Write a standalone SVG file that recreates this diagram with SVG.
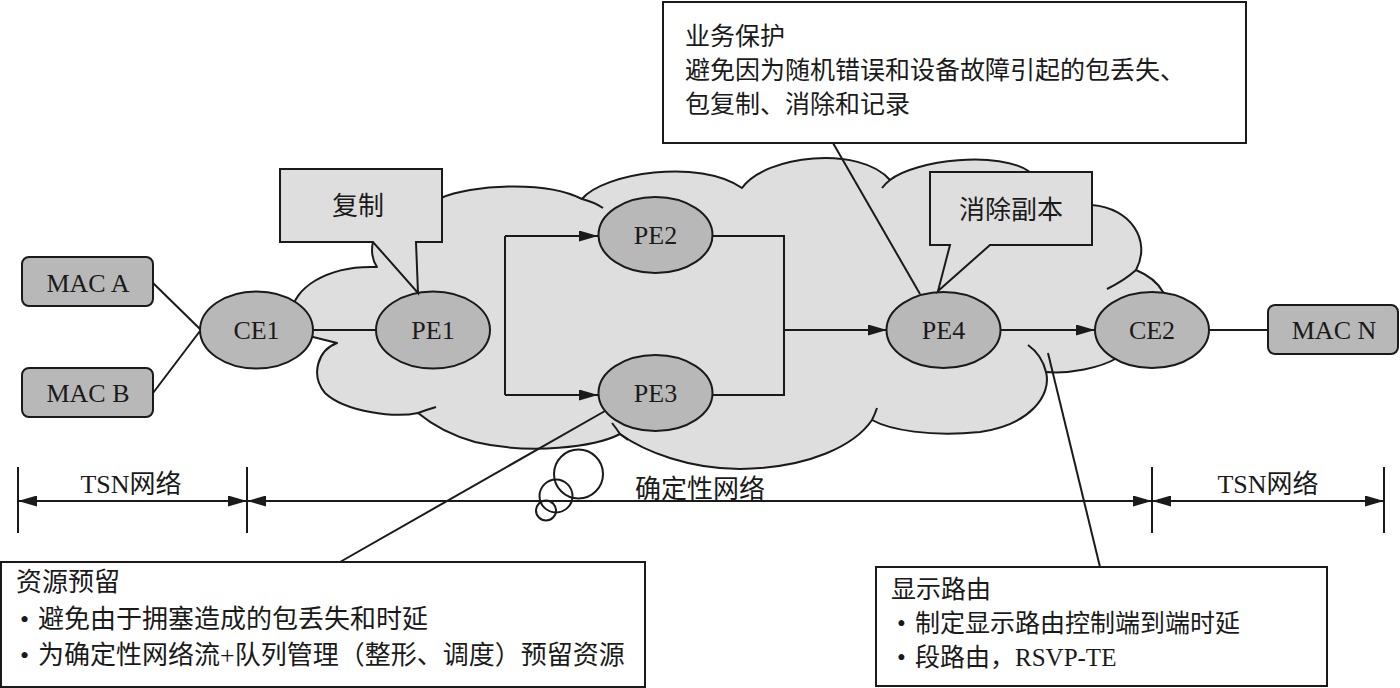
<svg xmlns="http://www.w3.org/2000/svg" width="1400" height="688" viewBox="0 0 1400 688">
<defs>
<style>
.ln{fill:none;stroke:#1a1a1a;stroke-width:2}
.node{fill:#b8b8b8;stroke:#1a1a1a;stroke-width:2}
.cloud{fill:#dedede;stroke:#1a1a1a;stroke-width:2;stroke-linejoin:round}
.gbox{fill:#dedede;stroke:#1a1a1a;stroke-width:2}
.wbox{fill:#ffffff;stroke:#1a1a1a;stroke-width:2}
.t{font-family:"Liberation Serif","Noto Sans CJK SC",serif;font-size:26px;fill:#1a1a1a}
.c{font-family:"Noto Sans CJK SC","Liberation Serif",sans-serif;font-size:26px;fill:#1a1a1a}
.s{font-size:25px}
.m{text-anchor:middle}
</style>
<marker id="ah" markerUnits="userSpaceOnUse" markerWidth="19" markerHeight="11" refX="19" refY="5.5" orient="auto-start-reverse">
<path d="M0,0 L19,5.5 L0,11 Z" fill="#1a1a1a"/>
</marker>
</defs>
<rect width="1400" height="688" fill="#ffffff"/>

<g id="cloud">
<path class="cloud" d="M 292 312 C 293 290, 325 265, 377 267 C 372 260, 371 250, 373 242 L 441 198 C 470 185, 545 180, 582 199 C 603 173, 700 158, 742 188 C 765 155, 860 145, 890 180 C 915 160, 1000 150, 1030 172 L 1092 205 C 1130 208, 1152 240, 1136 270 C 1148 275, 1158 283, 1163 292 L 1200 320 L 1117 358 C 1100 368, 1070 374, 1046 372 C 1052 395, 1030 425, 980 432 C 930 437, 890 430, 872 420 C 855 445, 810 468, 740 469 C 690 469, 645 452, 620 434 C 595 447, 530 455, 475 442 C 450 435, 430 423, 418 413 C 395 418, 345 412, 325 393 C 310 375, 318 350, 337 343 L 313 337 Z"/>
<path class="ln" d="M 582 199 Q 594 202 603 208"/>
<path class="ln" d="M 890 180 Q 886 183 882 188"/>
<path class="ln" d="M 1136 270 Q 1125 280 1107 289"/>
<path class="ln" d="M 1046 372 Q 1042 355 1028 345"/>
<path class="ln" d="M 872 420 Q 875 414 877 408"/>
<path class="ln" d="M 620 434 Q 616 428 612 423"/>
<path class="ln" d="M 620 434 Q 624 437 628 440"/>
<path class="ln" d="M 418 413 Q 426 410 436 407"/>
</g>

<g id="bubbles">
<circle class="ln" cx="578.5" cy="474" r="24.5"/>
<circle class="ln" cx="556" cy="496" r="16.5"/>
<circle class="ln" cx="546" cy="510.5" r="10"/>
</g>

<g id="connectors">
<path class="ln" d="M 153 283 L 200 329"/>
<path class="ln" d="M 153 393 L 200 331"/>
<path class="ln" d="M 313 330 L 376 330"/>
<path class="ln" d="M 505 236 V 395"/>
<path class="ln" d="M 505 236 H 598" marker-end="url(#ah)"/>
<path class="ln" d="M 505 395 H 598" marker-end="url(#ah)"/>
<path class="ln" d="M 713 236 H 784 V 395 H 713"/>
<path class="ln" d="M 784 330 H 887" marker-end="url(#ah)"/>
<path class="ln" d="M 1000 330 H 1095" marker-end="url(#ah)"/>
<path class="ln" d="M 1208 330 H 1268"/>
<path class="ln" d="M 833 143 L 920 294"/>
<path class="ln" d="M 340 562 L 605 411"/>
<path class="ln" d="M 1100 567 L 1048 353"/>
</g>

<g id="mac-a"><rect class="node" x="22" y="257" width="131" height="49" rx="7"/><text class="t m" x="88" y="292">MAC A</text></g>
<g id="mac-b"><rect class="node" x="22" y="368" width="131" height="49" rx="7"/><text class="t m" x="88" y="402">MAC B</text></g>
<g id="ce1"><ellipse class="node" cx="256.5" cy="330" rx="56.5" ry="38.5"/><text class="t m" x="256.5" y="339">CE1</text></g>
<g id="pe1"><ellipse class="node" cx="433" cy="330" rx="57" ry="38.5"/><text class="t m" x="433" y="339">PE1</text></g>
<g id="pe2"><ellipse class="node" cx="655.5" cy="235" rx="57" ry="38"/><text class="t m" x="655.5" y="244">PE2</text></g>
<g id="pe3"><ellipse class="node" cx="655.5" cy="393" rx="57" ry="38"/><text class="t m" x="655.5" y="402">PE3</text></g>
<g id="pe4"><ellipse class="node" cx="943.5" cy="330" rx="57" ry="38"/><text class="t m" x="943.5" y="339">PE4</text></g>
<g id="ce2"><ellipse class="node" cx="1152" cy="330" rx="57" ry="38"/><text class="t m" x="1152" y="339">CE2</text></g>
<g id="mac-n"><rect class="node" x="1268" y="305" width="130" height="49" rx="7"/><text class="t m" x="1334" y="339">MAC N</text></g>

<g id="callout-copy">
<path class="gbox" d="M 280 169 H 442 V 242 H 416 L 418 293 L 373 242 H 280 Z"/>
<text class="c m" x="358" y="215">复制</text>
</g>
<g id="callout-elim">
<path class="gbox" d="M 930 172 H 1092 V 245 H 990 L 938 291 L 950 245 H 930 Z"/>
<text class="c m" x="1011" y="219">消除副本</text>
</g>
<g id="callout-protect">
<rect class="wbox" x="663" y="2" width="583" height="141"/>
<text class="c s" x="685" y="45">业务保护</text>
<text class="c s" x="685" y="79">避免因为随机错误和设备故障引起的包丢失、</text>
<text class="c s" x="685" y="113">包复制、消除和记录</text>
</g>
<g id="callout-resv">
<rect class="wbox" x="1" y="562" width="644" height="125"/>
<text class="c" x="16" y="591">资源预留</text>
<text class="t" x="20" y="628">•</text><text class="c" x="38" y="628">避免由于拥塞造成的包丢失和时延</text>
<text class="t" x="20" y="664">•</text><text class="t" x="38" y="664">为确定性网络流+队列管理（整形、调度）预留资源</text>
</g>
<g id="callout-route">
<rect class="wbox" x="876" y="567" width="451" height="119"/>
<text class="c s" x="891" y="598">显示路由</text>
<text class="t s" x="897" y="632">•</text><text class="c s" x="915" y="632">制定显示路由控制端到端时延</text>
<text class="t s" x="897" y="666">•</text><text class="t s" x="915" y="666">段路由，RSVP-TE</text>
</g>

<g id="dimensions">
<path class="ln" d="M 18 467 V 533 M 247 467 V 533 M 1152 467 V 533 M 1384 467 V 533"/>
<path class="ln" d="M 18 501 H 247" marker-start="url(#ah)" marker-end="url(#ah)"/>
<path class="ln" d="M 247 501 H 1152" marker-start="url(#ah)" marker-end="url(#ah)"/>
<path class="ln" d="M 1152 501 H 1384" marker-start="url(#ah)" marker-end="url(#ah)"/>
<text class="t m" x="131" y="493">TSN网络</text>
<text class="c m" x="700" y="498">确定性网络</text>
<text class="t m" x="1268" y="493">TSN网络</text>
</g>
</svg>
